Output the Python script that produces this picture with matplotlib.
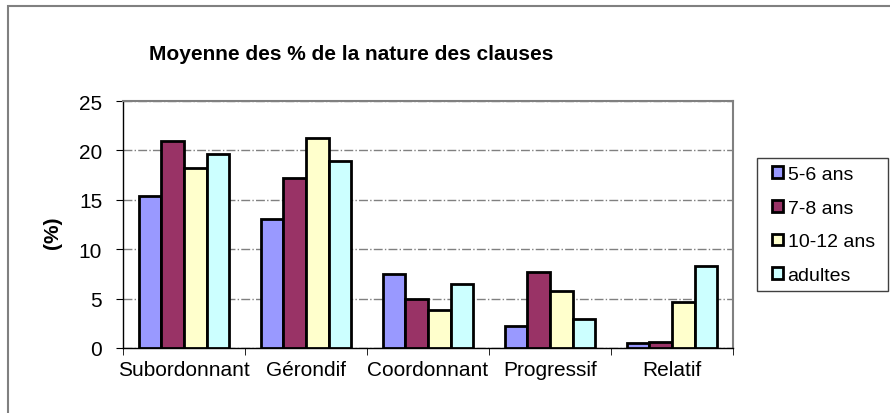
import numpy as np
from matplotlib import pyplot as plt
from matplotlib.patches import Rectangle

plt.rcParams['font.family'] = ['Liberation Sans', 'DejaVu Sans']

# data
categories = ['Subordonnant', 'Gérondif', 'Coordonnant', 'Progressif', 'Relatif']
groups = ['5-6 ans', '7-8 ans', '10-12 ans', 'adultes']
age_5_6 = [15.35, 13.05, 7.5, 2.25, 0.5]
age_7_8 = [21.0, 17.2, 4.95, 7.7, 0.65]
age_10_12 = [18.25, 21.3, 3.8, 5.8, 4.65]
adultes = [19.65, 18.95, 6.5, 2.95, 8.3]
series = [age_5_6, age_7_8, age_10_12, adultes]
colors = ['#9999ff', '#993366', '#ffffcc', '#ccffff']

fig = plt.figure(figsize=(8.9, 4.14), dpi=100)
ax = fig.add_axes([123/890, 1-349/414, (733-123)/890, (349-102)/414])

x = np.arange(len(categories))
w = 0.185
for i, (vals, c) in enumerate(zip(series, colors)):
    ax.bar(x + (i - 1.5)*w, vals, w, color=c, edgecolor='black', linewidth=2,
           label=groups[i], zorder=3)

ax.set_xlim(-0.5, 4.5)
ax.set_ylim(0, 25)
ax.set_yticks(range(0, 26, 5))
ax.set_xticks(x)
ax.set_xticklabels(categories, fontsize=15)
ax.set_xticks(np.arange(-0.5, 5, 1), minor=True)
ax.tick_params(axis='x', which='major', length=0, pad=9)
ax.tick_params(axis='x', which='minor', length=5, direction='out', color='black')
ax.tick_params(axis='y', labelsize=15, length=5, direction='out', pad=10)
ax.yaxis.grid(True, linestyle='-.', color='#808080', linewidth=1, zorder=0)
for s in ['top', 'right']:
    ax.spines[s].set_color('#808080')
    ax.spines[s].set_linewidth(1.5)
for s in ['left', 'bottom']:
    ax.spines[s].set_color('black')
    ax.spines[s].set_linewidth(1)

ax.set_ylabel('(%)', fontsize=15, fontweight='bold')
ax.yaxis.set_label_coords((62-123)/610, 0.47)
fig.text(351/890, 1-55/414, 'Moyenne des % de la nature des clauses', fontsize=15,
         fontweight='bold', ha='center', va='center')

# legend entries, with its frame drawn separately
leg = fig.legend(loc='center left', bbox_to_anchor=(772/890, 1-226/414), borderaxespad=0,
                 fontsize=14, frameon=False, handlelength=0.55, handleheight=0.55,
                 handletextpad=0.25, labelspacing=0.86, borderpad=0)
for h in leg.legend_handles:
    h.set_linewidth(2)
fig.patches.append(Rectangle((757/890, 1-292/414), 131/890, 133/414, transform=fig.transFigure,
                             fill=False, edgecolor='#404040', linewidth=1))

# outer border (cut off at right and bottom like the original)
fig.patches.append(Rectangle((8/890, -0.1), 1.2, 1.1 - 7/414, transform=fig.transFigure,
                             fill=False, edgecolor='#808080', linewidth=1.5))

plt.savefig('out.png', dpi=100)
